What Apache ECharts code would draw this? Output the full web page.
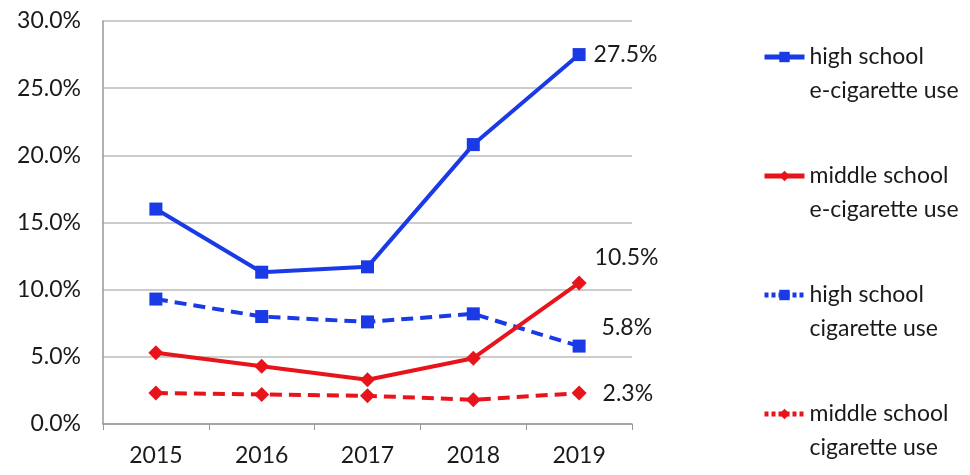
<!DOCTYPE html>
<html><head><meta charset="utf-8">
<script src="https://cdn.jsdelivr.net/npm/echarts@6/dist/echarts.min.js"></script>
<style>html,body{margin:0;padding:0;background:#fff}#c{width:970px;height:475px}</style>
</head><body><div id="c"></div>
<script>
const years = ['2015','2016','2017','2018','2019'];
const hsEcig = [16.0, 11.3, 11.7, 20.8, 27.5];
const msEcig = [5.3, 4.3, 3.3, 4.9, 10.5];
const hsCig = [9.3, 8.0, 7.6, 8.2, 5.8];
const msCig = [2.3, 2.2, 2.1, 1.8, 2.3];
const names = ['high school\ne-cigarette use','middle school\ne-cigarette use','high school\ncigarette use','middle school\ncigarette use'];

const BLUE = '#1a3ae6', RED = '#e8141c';
const FONT = 'Lato';
const TXT = '#1a1a1a';
const dashedFlags = [false, false, true, true];
function withLabel(arr, offset) {
  return arr.map((v, i) => i === arr.length - 1 ? {
    value: v,
    label: { show: true, position: 'right', distance: 8, offset: offset,
      formatter: p => p.value.toFixed(1) + '%', fontSize: 23, color: TXT, fontFamily: FONT }
  } : v);
}
function mk(name, data, color, sym, dashed, offset) {
  return {
    name, type: 'line', data: withLabel(data, offset),
    symbol: sym, symbolSize: sym === 'diamond' ? 15 : 13,
    lineStyle: { color, width: 4, type: dashed ? [12, 7] : 'solid' },
    itemStyle: { color },
    z: dashed ? 2 : 3
  };
}
const chart = echarts.init(document.getElementById('c'));
chart.setOption({
  animation: false,
  textStyle: { fontFamily: FONT },
  grid: { left: 103, right: 338, top: 21, bottom: 51 },
  xAxis: {
    type: 'category', data: years, boundaryGap: true,
    axisLine: { lineStyle: { color: '#999', width: 1.5 } },
    axisTick: { show: true, length: 6, lineStyle: { color: '#999' } },
    axisLabel: { fontSize: 23, color: TXT, margin: 20, fontFamily: FONT }
  },
  yAxis: {
    type: 'value', min: 0, max: 30, interval: 5,
    axisLine: { show: true, lineStyle: { color: '#999', width: 1.5 } },
    axisTick: { show: false },
    splitLine: { lineStyle: { color: '#bbb', width: 1.5 } },
    axisLabel: { fontSize: 23, color: TXT, margin: 22, fontFamily: FONT,
      formatter: v => v.toFixed(1) + '%' }
  },
  legend: {
    orient: 'vertical', left: 757, top: 1, itemGap: 17,
    itemWidth: 40, itemHeight: 13,
    data: names.map((n, i) => ({
      name: n,
      lineStyle: { width: 5, type: dashedFlags[i] ? [4, 3] : 'solid' }
    })),
    formatter: n => '\n' + n,
    textStyle: { fontSize: 23, color: TXT, lineHeight: 34, fontFamily: FONT }
  },
  series: [
    mk(names[0], hsEcig, BLUE, 'rect', false, [0, 0]),
    mk(names[1], msEcig, RED, 'diamond', false, [0, -25]),
    mk(names[2], hsCig, BLUE, 'rect', true, [8, -19]),
    mk(names[3], msCig, RED, 'diamond', true, [8, 0])
  ]
});
</script></body></html>
